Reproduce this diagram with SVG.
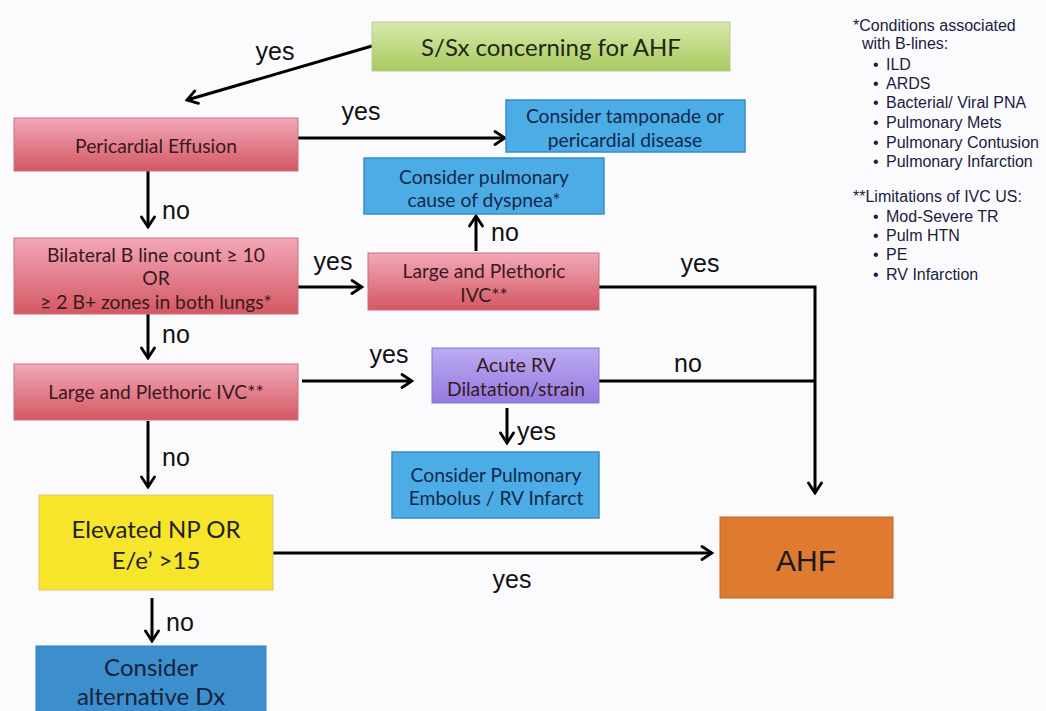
<svg xmlns="http://www.w3.org/2000/svg" width="1046" height="711" viewBox="0 0 1046 711">
<defs>
<linearGradient id="gPink" x1="0" y1="0" x2="0" y2="1"><stop offset="0" stop-color="#F3A8B9"/><stop offset="1" stop-color="#D35862"/></linearGradient>
<linearGradient id="gGreen" x1="0" y1="0" x2="0" y2="1"><stop offset="0" stop-color="#D8E9AC"/><stop offset="1" stop-color="#A8CA5E"/></linearGradient>
<linearGradient id="gPurple" x1="0" y1="0" x2="0" y2="1"><stop offset="0" stop-color="#BCABF2"/><stop offset="1" stop-color="#937ADF"/></linearGradient>
<marker id="arr" viewBox="0 0 14 16" refX="12" refY="8" markerWidth="14" markerHeight="16" markerUnits="userSpaceOnUse" orient="auto">
<path d="M2,1.5 L12,8 L2,14.5" fill="none" stroke="#000" stroke-width="2.8" stroke-linecap="round" stroke-linejoin="miter"/>
</marker>
<style>
.pink{fill:url(#gPink);stroke:#C7707A;stroke-width:1}
.green{fill:url(#gGreen);stroke:#B8CC90;stroke-width:1}
.purple{fill:url(#gPurple);stroke:#8A78C8;stroke-width:1}
.blue{fill:#4BACE6;stroke:#3A8CC6;stroke-width:1.5}
.dblue{fill:#3C8FCC;stroke:#3580BA;stroke-width:1}
.yellow{fill:#F7E52C;stroke:#EDC070;stroke-width:1}
.orange{fill:#DE7B31;stroke:#B86828;stroke-width:1}
.bt{font-family:Lato,"Liberation Sans",sans-serif;text-anchor:middle}
.tp{fill:#3A181C;font-size:19.3px}
.tb{fill:#13284A;font-size:19.3px}
.lab{font-family:"Liberation Sans",Arial,sans-serif;font-size:25px;fill:#111}
.note{font-family:"Liberation Sans",Arial,sans-serif;font-size:16px;fill:#1C1C3C}
.ln{fill:none;stroke:#000;stroke-width:3}
</style>
</defs>
<rect width="1046" height="711" fill="#FBFBFE"/>

<g id="connectors">
<line class="ln" x1="372" y1="46" x2="187" y2="100" marker-end="url(#arr)"/>
<line class="ln" x1="298" y1="138" x2="505" y2="138" marker-end="url(#arr)"/>
<line class="ln" x1="148" y1="171" x2="148" y2="227" marker-end="url(#arr)"/>
<line class="ln" x1="298" y1="287" x2="362" y2="287" marker-end="url(#arr)"/>
<line class="ln" x1="476" y1="251" x2="476" y2="216" marker-end="url(#arr)"/>
<polyline class="ln" points="599,287 815,287 815,493" marker-end="url(#arr)"/>
<line class="ln" x1="148" y1="314" x2="148" y2="358" marker-end="url(#arr)"/>
<line class="ln" x1="302" y1="381" x2="412" y2="381" marker-end="url(#arr)"/>
<line class="ln" x1="599" y1="381" x2="815" y2="381"/>
<line class="ln" x1="507" y1="408" x2="507" y2="443" marker-end="url(#arr)"/>
<line class="ln" x1="148" y1="421" x2="148" y2="487" marker-end="url(#arr)"/>
<line class="ln" x1="273" y1="553" x2="712" y2="553" stroke-width="4" marker-end="url(#arr)"/>
<line class="ln" x1="152" y1="598" x2="152" y2="641" marker-end="url(#arr)"/>
<text class="lab" x="275" y="60" text-anchor="middle">yes</text>
<text class="lab" x="361" y="120" text-anchor="middle">yes</text>
<text class="lab" x="162" y="219">no</text>
<text class="lab" x="333" y="270" text-anchor="middle">yes</text>
<text class="lab" x="491" y="241">no</text>
<text class="lab" x="700" y="272" text-anchor="middle">yes</text>
<text class="lab" x="162" y="343">no</text>
<text class="lab" x="389" y="363" text-anchor="middle">yes</text>
<text class="lab" x="688" y="372" text-anchor="middle">no</text>
<text class="lab" x="517" y="440">yes</text>
<text class="lab" x="162" y="466">no</text>
<text class="lab" x="512" y="588" text-anchor="middle">yes</text>
<text class="lab" x="166" y="631">no</text>
</g>

<g id="n-start">
<rect class="green" x="372" y="22" width="358" height="49"/>
<text class="bt" x="551" y="56" font-size="24" fill="#1E2812">S/Sx concerning for AHF</text>
</g>
<g id="n-pericardial">
<rect class="pink" x="14" y="118" width="284" height="53"/>
<text class="bt tp" x="156" y="153">Pericardial Effusion</text>
</g>
<g id="n-tamponade">
<rect class="blue" x="506" y="100" width="239" height="52"/>
<text class="bt tb" x="625" y="123">Consider tamponade or</text>
<text class="bt tb" x="625" y="147">pericardial disease</text>
</g>
<g id="n-pulmonary">
<rect class="blue" x="364" y="158" width="240" height="56"/>
<text class="bt tb" x="484" y="184">Consider pulmonary</text>
<text class="bt tb" x="484" y="207">cause of dyspnea*</text>
</g>
<g id="n-bline">
<rect class="pink" x="14" y="238" width="284" height="76"/>
<text class="bt tp" x="156" y="262">Bilateral B line count ≥ 10</text>
<text class="bt tp" x="156" y="285">OR</text>
<text class="bt tp" x="156" y="309">≥ 2 B+ zones in both lungs*</text>
</g>
<g id="n-ivc-mid">
<rect class="pink" x="368" y="253" width="231" height="57"/>
<text class="bt tp" x="484" y="278">Large and Plethoric</text>
<text class="bt tp" x="484" y="302">IVC**</text>
</g>
<g id="n-ivc-left">
<rect class="pink" x="14" y="364" width="284" height="56"/>
<text class="bt tp" x="156" y="399">Large and Plethoric IVC**</text>
</g>
<g id="n-rv">
<rect class="purple" x="432" y="348" width="167" height="55"/>
<text class="bt tp" x="516" y="372" fill="#22184A">Acute RV</text>
<text class="bt tp" x="516" y="396" fill="#22184A">Dilatation/strain</text>
</g>
<g id="n-pe">
<rect class="blue" x="392" y="452" width="207" height="66"/>
<text class="bt tb" x="496" y="482">Consider Pulmonary</text>
<text class="bt tb" x="496" y="505">Embolus / RV Infarct</text>
</g>
<g id="n-np">
<rect class="yellow" x="39" y="495" width="234" height="95"/>
<text class="bt" x="156" y="538" font-size="24" fill="#222">Elevated NP OR</text>
<text class="bt" x="156" y="569" font-size="24" fill="#222">E/e’ &gt;15</text>
</g>
<g id="n-ahf">
<rect class="orange" x="720" y="517" width="173" height="81"/>
<text x="806" y="571" text-anchor="middle" font-family="Liberation Sans,Arial,sans-serif" font-size="30" fill="#1A1A1A">AHF</text>
</g>
<g id="n-alt">
<rect class="dblue" x="36" y="646" width="230" height="70"/>
<text class="bt" x="151" y="676" font-size="24" fill="#13233C">Consider</text>
<text class="bt" x="151" y="705" font-size="24" fill="#13233C">alternative Dx</text>
</g>

<g id="notes">
<text class="note" x="853" y="31">*Conditions associated</text>
<text class="note" x="862" y="49">with B-lines:</text>
<text class="note" x="873" y="70">•</text><text class="note" x="886" y="70">ILD</text>
<text class="note" x="873" y="89">•</text><text class="note" x="886" y="89">ARDS</text>
<text class="note" x="873" y="108">•</text><text class="note" x="886" y="108">Bacterial/ Viral PNA</text>
<text class="note" x="873" y="128">•</text><text class="note" x="886" y="128">Pulmonary Mets</text>
<text class="note" x="873" y="148">•</text><text class="note" x="886" y="148">Pulmonary Contusion</text>
<text class="note" x="873" y="167">•</text><text class="note" x="886" y="167">Pulmonary Infarction</text>
<text class="note" x="853" y="202">**Limitations of IVC US:</text>
<text class="note" x="873" y="222">•</text><text class="note" x="886" y="222">Mod-Severe TR</text>
<text class="note" x="873" y="241">•</text><text class="note" x="886" y="241">Pulm HTN</text>
<text class="note" x="873" y="260">•</text><text class="note" x="886" y="260">PE</text>
<text class="note" x="873" y="280">•</text><text class="note" x="886" y="280">RV Infarction</text>
</g>
</svg>
